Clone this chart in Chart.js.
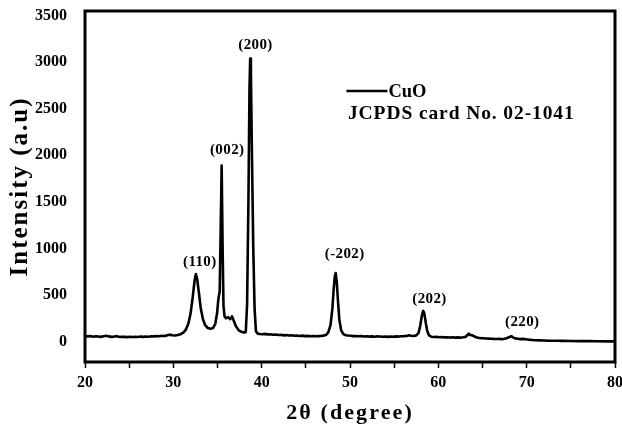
<!DOCTYPE html>
<html><head><meta charset="utf-8">
<script src="https://cdn.jsdelivr.net/npm/chart.js@4"></script>
<style>html,body{margin:0;padding:0;background:#fff;overflow:hidden}#wrap{width:622px;height:432px}</style>
</head><body><div id="wrap"><canvas id="c" width="622" height="432"></canvas></div>
<script>
const twoTheta = [
20.0,20.3,20.6,20.9,21.2,21.5,21.8,22.1,22.4,22.7,23.0,23.3,23.6,23.9,24.2,24.5,24.8,25.1,25.4,25.7,
26.0,26.3,26.6,26.9,27.2,27.5,27.8,28.1,28.4,28.7,29.0,29.3,29.6,29.9,30.2,30.5,30.8,31.1,31.4,31.7,
31.95,32.2,32.4,32.55,32.7,32.9,33.1,33.35,33.6,33.9,34.2,34.5,34.75,34.95,35.1,35.25,35.36,35.47,35.58,35.68,
35.8,35.95,36.2,36.45,36.65,36.85,37.1,37.4,37.7,38.0,38.2,38.35,38.5,38.62,38.7,38.78,38.9,39.05,39.2,
39.35,39.55,39.8,40.1,40.4,40.7,41.0,41.3,41.6,41.9,42.2,42.5,42.8,43.1,43.4,43.7,44.0,44.3,44.6,44.9,
45.2,45.5,45.8,46.1,46.4,46.7,47.0,47.3,47.55,47.8,48.0,48.15,48.28,48.38,48.5,48.65,48.8,49.0,49.25,49.5,
49.8,50.1,50.4,50.7,51.0,51.3,51.6,51.9,52.2,52.5,52.8,53.1,53.4,53.7,54.0,54.3,54.6,54.9,55.2,55.5,
55.8,56.1,56.4,56.7,56.9,57.2,57.5,57.75,57.95,58.12,58.28,58.42,58.58,58.75,58.95,59.2,59.5,59.8,60.1,60.4,
60.7,61.0,61.3,61.6,61.9,62.2,62.5,62.8,63.1,63.3,63.45,63.6,63.8,64.0,64.2,64.5,64.8,65.1,65.4,65.7,
66.0,66.3,66.6,66.9,67.2,67.5,67.8,68.05,68.25,68.45,68.7,69.0,69.3,69.6,69.9,70.2,70.6,71.0,71.5,72.0,
72.5,73.0,73.5,74.0,75.0,76.0,77.0,78.0,79.0,80.0
];
const intensity = [
58,55,60,52,57,54,50,56,62,55,50,53,58,48,52,50,47,52,49,51,
48,53,50,54,52,57,55,58,56,62,60,66,74,68,64,70,78,92,125,190,
300,480,650,725,670,520,360,240,175,145,138,145,190,300,460,540,1200,1890,1000,380,
270,250,262,240,270,220,160,120,105,98,100,400,1500,2700,3040,2900,2000,1000,350,
110,85,80,78,82,75,78,72,76,70,72,66,70,64,68,62,65,60,63,58,
61,57,60,56,58,60,63,72,100,180,350,560,700,735,640,420,230,120,80,68,
64,62,58,60,56,58,54,57,53,55,52,56,54,51,53,50,54,52,55,53,
57,58,60,68,62,60,66,90,170,270,330,300,200,110,65,52,48,50,46,48,
44,46,43,45,42,44,42,45,50,70,85,70,68,60,48,40,36,35,32,31,
30,28,27,28,26,30,38,48,58,45,34,30,26,28,24,20,17,14,12,11,
9,9,8,7,6,4,4,3,2,1
];
const xTickValues = [20,25,30,35,40,45,50,55,60,65,70,75,80];
const xTickLabels = ['20','','30','','40','','50','','60','','70','','80'];
const yTickValues = [0,500,1000,1500,2000,2500,3000,3500];
const peakNames = ['(110)','(002)','(200)','(-202)','(202)','(220)'];
const peakLabelTheta = [33.0,36.1,39.3,49.4,59.0,69.5];
const peakLabelIntensity = [850,2057,3179,942,459,207];
const seriesName = 'CuO';
const cardNote = 'JCPDS card No. 02-1041';
const xTitle = '2\u03b8 (degree)';
const yTitle = 'Intensity (a.u)';

const SERIF = "'Liberation Serif','Times New Roman',serif";

const titleSpacing = {x: '2.1px', y: '2px'};
const titleSpacingPlugin = {
  id: 'titleSpacing',
  beforeDraw(chart) {
    for (const id of Object.keys(titleSpacing)) {
      const s = chart.scales[id];
      if (!s || s._spPatched) continue;
      const orig = s.drawTitle;
      s.drawTitle = function () {
        const c = this.ctx; const prev = c.letterSpacing;
        c.letterSpacing = titleSpacing[id];
        orig.apply(this, arguments);
        c.letterSpacing = prev || '0px';
      };
      s._spPatched = true;
    }
  }
};

const framePlugin = {
  id: 'frame',
  afterDatasetsDraw(chart) {
    const {ctx, chartArea: a} = chart;
    ctx.save();
    ctx.strokeStyle = '#000';
    ctx.lineWidth = 3;
    ctx.strokeRect(a.left, a.top, a.right - a.left, a.bottom - a.top);
    ctx.restore();
  }
};

const notesPlugin = {
  id: 'notes',
  afterDraw(chart, args, opts) {
    const {ctx} = chart;
    const xs = chart.scales.x, ys = chart.scales.y;
    ctx.save();
    ctx.fillStyle = '#000';
    ctx.textAlign = 'center';
    ctx.textBaseline = 'middle';
    ctx.font = 'bold 15px ' + SERIF;
    ctx.letterSpacing = '0.4px';
    peakNames.forEach((t, i) => {
      ctx.fillText(t, xs.getPixelForValue(peakLabelTheta[i]), ys.getPixelForValue(peakLabelIntensity[i]));
    });
    const lx = xs.getPixelForValue(opts.legendTheta);
    const ly = ys.getPixelForValue(opts.legendIntensity);
    ctx.strokeStyle = '#000';
    ctx.lineWidth = 2.5;
    ctx.beginPath();
    ctx.moveTo(lx, ly); ctx.lineTo(lx + 41, ly);
    ctx.stroke();
    ctx.textAlign = 'left';
    ctx.textBaseline = 'alphabetic';
    ctx.letterSpacing = '0px';
    ctx.font = 'bold 18.5px ' + SERIF;
    ctx.fillText(seriesName, lx + 42, ly + 6);
    ctx.font = 'bold 19.5px ' + SERIF;
    ctx.letterSpacing = '0.9px';
    ctx.fillText(cardNote, lx + 1.5, ly + 28);
    ctx.restore();
  }
};

const tickFont = {family: SERIF, size: 16, weight: 'bold'};

new Chart(document.getElementById('c'), {
  type: 'line',
  data: {
    datasets: [{
      label: seriesName,
      data: twoTheta.map((t, i) => ({x: t, y: intensity[i]})),
      borderColor: '#000',
      borderWidth: 2.6,
      borderJoinStyle: 'round',
      pointRadius: 0,
      tension: 0,
      fill: false
    }]
  },
  options: {
    responsive: false,
    animation: false,
    devicePixelRatio: 1,
    layout: {padding: {top: 11, right: 7, left: 0, bottom: 0}},
    plugins: {
      legend: {display: false},
      tooltip: {enabled: false},
      notes: {legendTheta: 49.6, legendIntensity: 2690}
    },
    scales: {
      x: {
        type: 'linear',
        min: 20, max: 80,
        afterBuildTicks: s => { s.ticks = xTickValues.map(v => ({value: v})); },
        afterFit: s => { s.height = 70; s.paddingLeft = 0; s.paddingRight = 0; },
        ticks: {
          callback: (v, i) => xTickLabels[i],
          autoSkip: false, maxRotation: 0, minRotation: 0,
          color: '#000', font: tickFont, padding: 5
        },
        grid: {drawOnChartArea: false, drawTicks: true, tickLength: 6, tickWidth: 1.5, tickColor: '#000'},
        border: {display: false},
        title: {display: true, text: xTitle, color: '#000',
          font: {family: SERIF, size: 22, weight: 'bold'}, padding: {top: 0, bottom: 5}}
      },
      y: {
        type: 'linear',
        min: -220, max: 3550,
        afterBuildTicks: s => { s.ticks = yTickValues.map(v => ({value: v})); },
        afterFit: s => { s.width = 85; s.paddingTop = 0; s.paddingBottom = 0; },
        ticks: {color: '#000', font: tickFont, padding: 10, autoSkip: false,
          callback: v => String(v)},
        grid: {display: false},
        border: {display: false},
        title: {display: true, text: yTitle, color: '#000',
          font: {family: SERIF, size: 25, weight: 'bold'}, padding: {top: 6, bottom: 0}}
      }
    }
  },
  plugins: [titleSpacingPlugin, framePlugin, notesPlugin]
});
</script></body></html>
